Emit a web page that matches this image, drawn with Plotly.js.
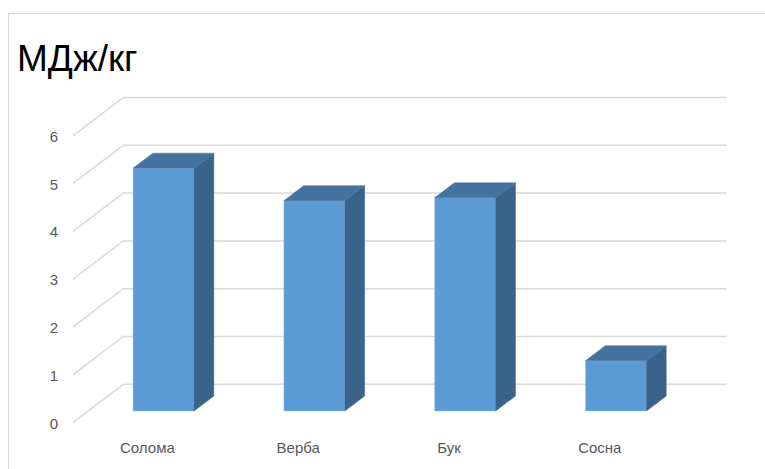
<!DOCTYPE html>
<html>
<head>
<meta charset="utf-8">
<script src="https://cdn.plot.ly/plotly-3.0.1.min.js"></script>
<style>
  html, body { margin: 0; padding: 0; background: #ffffff; }
  #wrap { position: relative; width: 765px; height: 469px; overflow: hidden; }
  #chart { position: absolute; left: 0; top: 0; width: 765px; height: 469px; }
  #frame { position: absolute; left: 8px; top: 13px; width: 800px; height: 500px;
           border-left: 1.5px solid #d9d9d9; border-top: 1.5px solid #d9d9d9; pointer-events: none; }
</style>
</head>
<body>
<div id="wrap">
  <div id="chart"></div>
  <div id="frame"></div>
</div>
<script>
// ---- data ----
const categories = ["Солома", "Верба", "Бук", "Сосна"];
const values = [5.08, 4.40, 4.46, 1.05];
const yTicks = [0, 1, 2, 3, 4, 5, 6];
const titleText = "МДж/кг";

// ---- geometry of the oblique 3D projection (pixel scales) ----
const W = 765, H = 469;
const M = { l: 73, r: 0, t: 80, b: 40 };
const catPx = 150.8;      // pixels per category
const cat0Px = 147.4;     // x pixel of first category at front edge
const valPx = 47.8;       // pixels per value unit
const zeroPx = 423.3;     // y pixel of value 0 at front edge
const depthDxPx = 51.3, depthDyPx = 39.0;   // full-depth offset
const ddx = depthDxPx / catPx, ddy = depthDyPx / valPx;
const halfW = 30.5 / catPx;
const d1 = 0.315, d2 = 0.70;   // bar front / back depth
const xRange = [(M.l - cat0Px) / catPx, (W - M.r - cat0Px) / catPx];
const yRange = [(zeroPx - (H - M.b)) / valPx, (zeroPx - M.t) / valPx];
const xLeft = -0.5, xRight = categories.length - 0.5;

function P(i, v, d) { return [i + ddx * d, v + ddy * d]; }

// ---- gridlines (shapes, below traces) ----
const shapes = [];
yTicks.forEach(t => {
  const a = P(xLeft, t, 0), b = P(xLeft, t, 1), c = P(xRight, t, 1);
  shapes.push({
    type: 'path', xref: 'x', yref: 'y', layer: 'below',
    path: `M${a[0]},${a[1]} L${b[0]},${b[1]} L${c[0]},${c[1]}`,
    line: { color: '#d9d9d9', width: 1.5 }
  });
});

// ---- bars: front faces via bar trace ----
const idx = categories.map((_, i) => i);
const traces = [];
traces.push({
  type: 'bar',
  x: idx.map(i => i + ddx * d1),
  y: values,
  base: idx.map(() => ddy * d1),
  width: 2 * halfW,
  marker: { color: '#5B9BD5', line: { color: 'rgba(160,200,235,0.8)', width: 0.6 } },
  hoverinfo: 'skip', showlegend: false
});

// side & top faces
function poly(pts, color) {
  const xs = pts.map(p => p[0]), ys = pts.map(p => p[1]);
  xs.push(xs[0]); ys.push(ys[0]);
  return { type: 'scatter', mode: 'lines', x: xs, y: ys, fill: 'toself',
           fillcolor: color, line: { color: color, width: 0.5 },
           hoverinfo: 'skip', showlegend: false };
}
values.forEach((v, i) => {
  traces.push(poly([P(i + halfW, 0, d1), P(i + halfW, 0, d2), P(i + halfW, v, d2), P(i + halfW, v, d1)], '#3A6389'));
  traces.push(poly([P(i - halfW, v, d1), P(i + halfW, v, d1), P(i + halfW, v, d2), P(i - halfW, v, d2)], '#44739F'));
});

const font = 'Liberation Sans, Arial, sans-serif';
const layout = {
  width: W, height: H,
  margin: M,
  paper_bgcolor: 'rgba(0,0,0,0)', plot_bgcolor: 'rgba(0,0,0,0)',
  showlegend: false,
  bargap: 0,
  title: {
    text: titleText,
    font: { family: font, size: 37, color: '#000000' },
    xref: 'container', yref: 'container',
    x: 17 / W, xanchor: 'left',
    y: 1 - 58 / H, yanchor: 'middle'
  },
  xaxis: {
    range: xRange, fixedrange: true,
    tickvals: idx, ticktext: categories,
    showgrid: false, zeroline: false, showline: false, ticks: '',
    ticklabelstandoff: 8,
    tickfont: { family: font, size: 15, color: '#595959' }
  },
  yaxis: {
    range: yRange, fixedrange: true,
    tickvals: yTicks, ticktext: yTicks.map(String),
    showgrid: false, zeroline: false, showline: false, ticks: '',
    ticklabelstandoff: 14,
    tickfont: { family: font, size: 15, color: '#595959' }
  },
  shapes: shapes
};

Plotly.newPlot('chart', traces, layout, { staticPlot: true, displayModeBar: false });
</script>
</body>
</html>
